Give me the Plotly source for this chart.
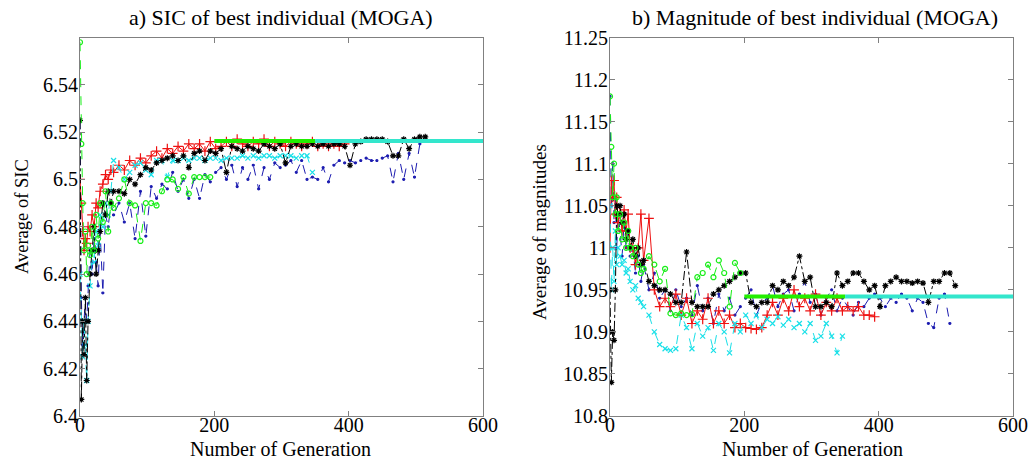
import plotly.graph_objects as go

# Generation numbers at which the best individual was recorded
GEN_EARLY = [0, 2, 4, 6, 8, 10, 12, 15, 18, 21, 24, 27, 30, 34, 38, 42, 46, 50]
GEN_LATER = list(range(58, 515, 8))
GEN = GEN_EARLY + GEN_LATER

# ---- a) average SIC of the best individual, five MOGA runs ----
sic_red = [
    6.500, 6.490, 6.478, 6.470, 6.475, 6.473, 6.480, 6.478, 6.485, 6.480,
    6.490, 6.488, 6.495, 6.498, 6.502, 6.500, 6.504, 6.503, 6.506, 6.504,
    6.508, 6.506, 6.509, 6.507, 6.510, 6.512, 6.509, 6.513, 6.511, 6.514,
    6.512, 6.515, 6.513, 6.515, 6.512, 6.516, 6.513, 6.514, 6.516, 6.514,
    6.517, 6.515, 6.514, 6.516, 6.515, 6.517, 6.514, 6.516, 6.515, 6.514,
    6.516, 6.515, 6.514, 6.515, 6.516, 6.514, 6.515, 6.514, 6.515, 6.514,
    6.515,
]
sic_black = [
    6.525, 6.407, 6.440, 6.426, 6.450, 6.415, 6.440, 6.460, 6.470, 6.480,
    6.460, 6.470, 6.478, 6.490, 6.485, 6.495, 6.490, 6.495, 6.495, 6.494,
    6.500, 6.498, 6.502, 6.505, 6.504, 6.507, 6.508, 6.509, 6.510, 6.508,
    6.510, 6.505, 6.511, 6.512, 6.508, 6.512, 6.511, 6.513, 6.503, 6.514,
    6.513, 6.512, 6.514, 6.513, 6.512, 6.515, 6.514, 6.513, 6.515, 6.507,
    6.514, 6.515, 6.514, 6.514, 6.515, 6.514, 6.515, 6.514, 6.515, 6.515,
    6.514, 6.506, 6.515, 6.516, 6.517, 6.517, 6.517, 6.517, 6.516, 6.510,
    6.510, 6.517, 6.513, 6.517, 6.518, 6.518,
]
sic_blue = [
    6.525, 6.450, 6.430, 6.440, 6.450, 6.440, 6.455, 6.470, 6.460, 6.475,
    6.465, 6.455, 6.478, 6.452, 6.485, 6.480, 6.490, 6.485, 6.490, 6.482,
    6.490, 6.475, 6.495, 6.476, 6.497, 6.492, 6.498, 6.496, 6.503, 6.495,
    6.500, 6.492, 6.500, 6.492, 6.502, 6.499, 6.503, 6.505, 6.500, 6.506,
    6.497, 6.505, 6.500, 6.506, 6.496, 6.505, 6.500, 6.507, 6.505, 6.506,
    6.508, 6.503, 6.508, 6.500, 6.501, 6.500, 6.505, 6.499, 6.506, 6.508,
    6.507, 6.508, 6.507, 6.508, 6.509, 6.508, 6.508, 6.509, 6.510, 6.499,
    6.511, 6.500, 6.511, 6.501, 6.515,
]
sic_cyan = [
    6.460, 6.440, 6.425, 6.440, 6.430, 6.415, 6.440, 6.455, 6.470, 6.465,
    6.478, 6.472, 6.485, 6.480, 6.490, 6.485, 6.495, 6.508, 6.505, 6.500,
    6.503, 6.506, 6.507, 6.504, 6.502, 6.508, 6.508, 6.501, 6.508, 6.508,
    6.509, 6.508, 6.509, 6.509, 6.508, 6.509, 6.509, 6.508, 6.509, 6.509,
    6.509, 6.510, 6.509, 6.510, 6.509, 6.510, 6.510, 6.509, 6.510, 6.510,
    6.510, 6.509, 6.510, 6.510, 6.503,
]
sic_green = [
    6.558, 6.515, 6.490, 6.470, 6.478, 6.460, 6.472, 6.468, 6.480, 6.470,
    6.485, 6.475, 6.490, 6.482, 6.495, 6.478, 6.490, 6.488, 6.492, 6.500,
    6.490, 6.489, 6.474, 6.490, 6.490, 6.489, 6.495, 6.500, 6.500, 6.496,
    6.501, 6.494, 6.501, 6.501, 6.501, 6.501,
]
sic_final = 6.5162

# ---- b) average magnitude of the best individual, five MOGA runs ----
mag_red = [
    11.000, 11.080, 11.060, 11.080, 11.040, 11.060, 11.030, 11.040, 11.020, 11.045,
    11.020, 11.040, 11.000, 11.000, 10.980, 11.000, 11.040, 10.985, 11.035, 10.950,
    10.930, 10.940, 10.930, 10.945, 10.920, 10.940, 10.910, 10.925, 10.915, 10.940,
    10.910, 10.925, 10.910, 10.920, 10.905, 10.910, 10.905, 10.904, 10.903, 10.905,
    10.920, 10.935, 10.920, 10.940, 10.925, 10.950, 10.930, 10.940, 10.925, 10.945,
    10.920, 10.935, 10.925, 10.940, 10.925, 10.930, 10.925, 10.930, 10.920, 10.920,
    10.918,
]
mag_black = [
    10.950, 10.840, 10.900, 10.890, 10.950, 11.050, 11.040, 11.050, 11.030, 11.040,
    11.010, 11.020, 11.000, 11.010, 10.990, 11.000, 10.980, 10.985, 10.960, 10.955,
    10.950, 10.950, 10.945, 10.935, 10.935, 10.995, 10.935, 10.930, 10.930, 10.930,
    10.945, 10.950, 10.955, 10.960, 10.965, 10.970, 10.970, 10.935, 10.930, 10.935,
    10.935, 10.955, 10.950, 10.960, 10.955, 10.965, 10.990, 10.960, 10.965, 10.930,
    10.930, 10.935, 10.930, 10.970, 10.955, 10.960, 10.970, 10.970, 10.960, 10.950,
    10.955, 10.930, 10.955, 10.960, 10.965, 10.960, 10.960, 10.958, 10.960, 10.958,
    10.935, 10.960, 10.960, 10.970, 10.970, 10.955,
]
mag_blue = [
    11.180, 11.050, 11.100, 11.030, 11.060, 11.000, 11.040, 11.020, 10.990, 11.030,
    11.000, 11.020, 10.990, 11.000, 10.970, 10.990, 10.960, 10.980, 10.950, 10.970,
    10.940, 10.950, 10.925, 10.950, 10.930, 10.940, 10.920, 10.955, 10.925, 10.940,
    10.910, 10.945, 10.925, 10.940, 10.920, 10.930, 10.940, 10.950, 10.920, 10.935,
    10.940, 10.955, 10.930, 10.945, 10.950, 10.925, 10.945, 10.960, 10.935, 10.945,
    10.920, 10.940, 10.950, 10.925, 10.940, 10.930, 10.920, 10.935, 10.930, 10.940,
    10.945, 10.940, 10.930, 10.940, 10.935, 10.945, 10.940, 10.925, 10.940, 10.935,
    10.910, 10.905, 10.940, 10.945, 10.910,
]
mag_cyan = [
    11.050, 10.950, 11.000, 10.960, 11.020, 10.980, 11.000, 10.990, 10.980, 10.985,
    10.970, 10.975, 10.960, 10.950, 10.955, 10.940, 10.935, 10.930, 10.920, 10.900,
    10.885, 10.880, 10.878, 10.880, 10.920, 10.905, 10.880, 10.910, 10.895, 10.905,
    10.878, 10.910, 10.900, 10.875, 10.910, 10.900, 10.920, 10.910, 10.920, 10.905,
    10.915, 10.910, 10.918, 10.908, 10.915, 10.905, 10.910, 10.900, 10.910, 10.890,
    10.895, 10.910, 10.895, 10.875, 10.895,
]
mag_green = [
    11.180, 11.120, 11.060, 11.100, 11.040, 11.060, 11.020, 11.040, 11.010, 11.030,
    11.000, 11.020, 11.000, 10.990, 11.000, 10.980, 10.970, 10.975, 10.990, 10.980,
    10.960, 10.975, 10.922, 10.920, 10.922, 10.920, 10.921, 10.965, 10.970, 10.980,
    10.965, 10.985, 10.970, 10.930, 10.982, 10.970,
]
mag_final = 10.942

# Span of the converged best value: first green, then cyan
FINAL_GREEN = [200, 350]
FINAL_CYAN = [350, 600]

SIC_TICKS = [6.40, 6.42, 6.44, 6.46, 6.48, 6.50, 6.52, 6.54]
SIC_LABELS = ["6.4", "6.42", "6.44", "6.46", "6.48", "6.5", "6.52", "6.54"]
MAG_TICKS = [10.80, 10.85, 10.90, 10.95, 11.00, 11.05, 11.10, 11.15, 11.20, 11.25]
MAG_LABELS = ["10.8", "10.85", "10.9", "10.95", "11", "11.05", "11.1", "11.15", "11.2", "11.25"]
X_TICKS = [0, 200, 400, 600]

FONT = "Liberation Serif"

STYLES = {
    "blue": dict(color="#1c1cb0", dash="dash", symbol="circle", size=2, width=1),
    "red": dict(color="#ee1111", dash="solid", symbol="cross-thin-open", size=7, width=1),
    "cyan": dict(color="#19e0e8", dash="dash", symbol="x-thin-open", size=5, width=1),
    "black": dict(color="#000000", dash="dashdot", symbol="asterisk-open", size=5, width=1),
    "green": dict(color="#19ee19", dash="dash", symbol="circle-open", size=5, width=1),
}

fig = go.Figure()


def add_runs(runs, xa, ya):
    for name, vals in runs:
        st = STYLES[name]
        fig.add_trace(go.Scatter(
            x=GEN[:len(vals)], y=vals, xaxis=xa, yaxis=ya,
            mode="lines+markers",
            line=dict(color=st["color"], dash=st["dash"], width=st["width"]),
            marker=dict(symbol=st["symbol"], size=st["size"], color=st["color"],
                        line=dict(color=st["color"], width=1.2)),
            showlegend=False,
        ))


def add_final(level, xa, ya):
    fig.add_trace(go.Scatter(x=FINAL_GREEN, y=[level, level], xaxis=xa, yaxis=ya,
                             mode="lines", line=dict(color="#22ee00", width=4),
                             showlegend=False))
    fig.add_trace(go.Scatter(x=FINAL_CYAN, y=[level, level], xaxis=xa, yaxis=ya,
                             mode="lines", line=dict(color="#33e6cc", width=4),
                             showlegend=False))


add_runs([("blue", sic_blue), ("red", sic_red), ("cyan", sic_cyan),
          ("black", sic_black), ("green", sic_green)], "x", "y")
add_final(sic_final, "x", "y")
add_runs([("blue", mag_blue), ("red", mag_red), ("cyan", mag_cyan),
          ("black", mag_black), ("green", mag_green)], "x2", "y2")
add_final(mag_final, "x2", "y2")

W, H = 1033, 459
axis_common = dict(showline=True, mirror="ticks", linecolor="#808080", linewidth=1,
                   ticks="inside", ticklen=5, tickcolor="#808080", showgrid=False,
                   zeroline=False, automargin=False,
                   tickfont=dict(family=FONT, size=20, color="black"))
x_common = dict(axis_common, ticklabelstandoff=-9)
y_common = dict(axis_common, ticklabelstandoff=-3)

y_dom = [(H - 416) / H, (H - 37.5) / H]
fig.update_layout(
    width=W, height=H, margin=dict(l=0, r=0, t=0, b=0),
    paper_bgcolor="white", plot_bgcolor="white",
    xaxis=dict(domain=[80 / W, 483 / W], range=[0, 600], tickvals=X_TICKS, anchor="y", **x_common),
    yaxis=dict(domain=y_dom, range=[6.40, 6.56], tickvals=SIC_TICKS, ticktext=SIC_LABELS,
               anchor="x", **y_common),
    xaxis2=dict(domain=[610 / W, 1013 / W], range=[0, 600], tickvals=X_TICKS, anchor="y2", **x_common),
    yaxis2=dict(domain=y_dom, range=[10.80, 11.25], tickvals=MAG_TICKS, ticktext=MAG_LABELS,
                anchor="x2", **y_common),
)


def text(s, x, y, size, angle=0):
    fig.add_annotation(text=s, x=x / W, y=1 - y / H, xref="paper", yref="paper",
                       showarrow=False, textangle=angle, xanchor="center", yanchor="middle",
                       font=dict(family=FONT, size=size, color="black"))


text("a) SIC of best individual (MOGA)", 281, 18, 22)
text("b) Magnitude of best individual (MOGA)", 815, 18, 22)
text("Number of Generation", 280, 449, 20)
text("Number of Generation", 812, 449, 20)
text("Average of SIC", 22, 217, 18.5, -90)
text("Average of magnitudes", 539, 232, 19, -90)

fig.write_html("out.html")
